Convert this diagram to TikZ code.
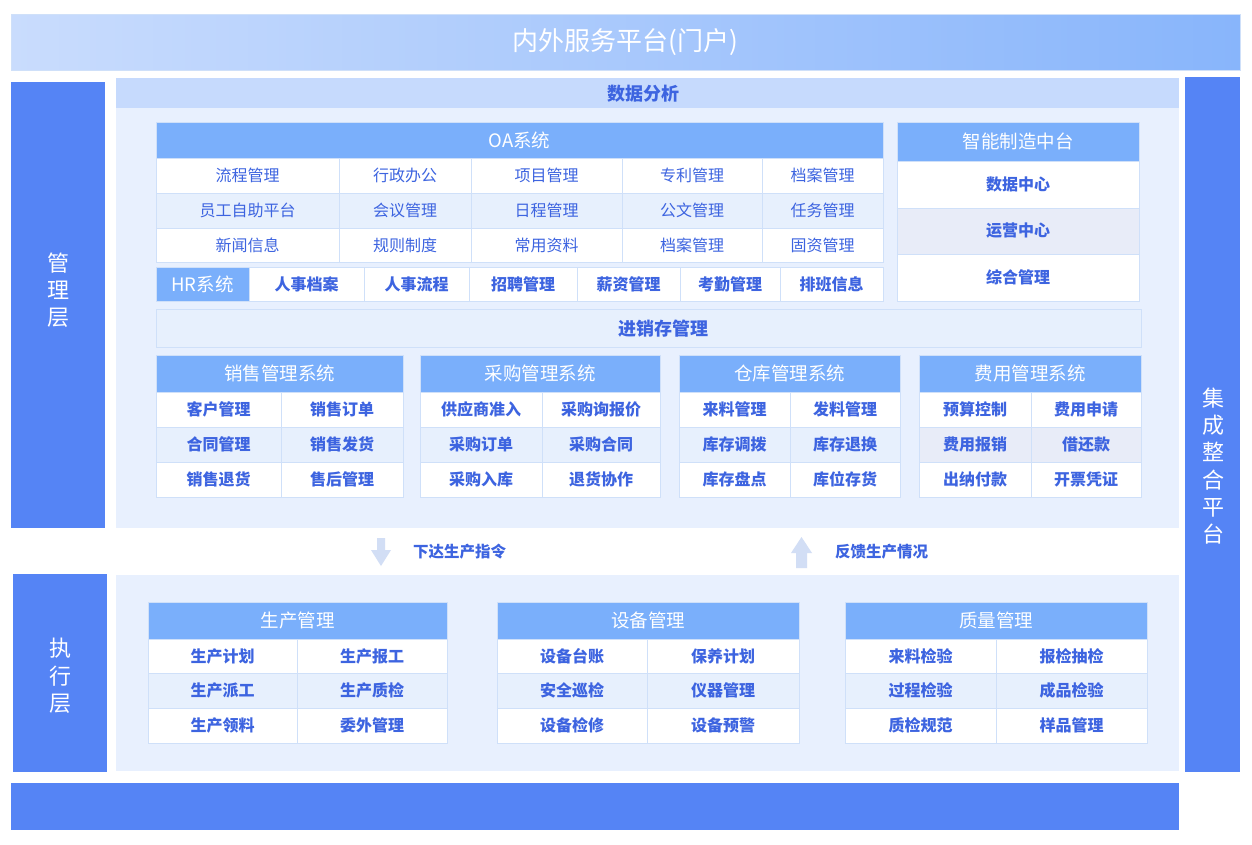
\documentclass[tikz,border=0pt]{standalone}
\usepackage{fontspec}
\setmainfont{Noto Sans CJK SC}
\definecolor{darkC}{HTML}{5584F5}
\definecolor{hdrC}{HTML}{7AAFFB}
\definecolor{bgC}{HTML}{E8F0FE}
\definecolor{bandC}{HTML}{C6DAFD}
\definecolor{lineC}{HTML}{CFE0F9}
\definecolor{rowL}{HTML}{E7F0FD}
\definecolor{rowG}{HTML}{E8ECF8}
\definecolor{txtB}{HTML}{3D64E0}
\definecolor{arrC}{HTML}{D2DEF5}
\definecolor{gradL}{HTML}{C9DCFD}
\definecolor{gradR}{HTML}{88B5FB}
\newcommand{\cellbox}[7]{%
  \pgfmathsetmacro{\cw}{#4-#2}\pgfmathsetmacro{\ch}{#5-#3}%
  \node[#6, minimum width=\cw pt, minimum height=\ch pt] (#1) at ({(#2+#4)/2},{(#3+#5)/2}) {#7};}
\tikzset{
  base/.style={inner sep=0pt, outer sep=0pt, anchor=center},
  cellW/.style={base, draw=lineC, line width=0.8pt, fill=white, text=txtB, font=\bfseries\fontsize{16}{16}\selectfont},
  cellR/.style={cellW, font=\fontsize{16}{16}\selectfont},
  cellL/.style={cellW, fill=rowL},
  cellLR/.style={cellR, fill=rowL},
  cellG/.style={cellW, fill=rowG},
  hdr/.style={base, draw=lineC, line width=0.8pt, fill=hdrC, text=white, font=\fontsize{18.5}{18.5}\selectfont},
  panel/.style={base, fill=darkC, text=white, align=center, font=\fontsize{22}{27.5}\selectfont},
  vtext/.style={base, text=white, align=center, font=\fontsize{22}{27.3}\selectfont},
  area/.style={base, fill=bgC},
  band/.style={base, fill=bandC, text=txtB, font=\bfseries\fontsize{18}{18}\selectfont},
  bandtxt/.style={base, text=txtB, font=\bfseries\fontsize{18}{18}\selectfont},
  arrowlbl/.style={base, anchor=west, text=txtB, font=\bfseries\fontsize{15.5}{15.5}\selectfont},
}
\begin{document}
\begin{tikzpicture}[x=1pt,y=-1pt]
\useasboundingbox (0,0) rectangle (1252,844);
\fill[white] (0,0) rectangle (1252,844);
% top banner
\cellbox{portal}{11}{14}{1240}{70}{base, draw=lineC, left color=gradL, right color=gradR, text=white, font=\fontsize{26}{26}\selectfont}{内外服务平台(门户)}
% side panels
\cellbox{mgmt}{11}{82}{105}{528}{panel}{}
\node[vtext] (mgmtlbl) at (58,290) {管\\理\\层};
\cellbox{exec}{13}{574}{107}{772}{panel}{}
\node[vtext] (execlbl) at (60,676) {执\\行\\层};
\cellbox{integ}{1185}{77}{1240}{772}{panel}{}
\node[vtext] (integlbl) at (1213,466) {集\\成\\整\\合\\平\\台};
\cellbox{bottom}{11}{783}{1179}{830}{base, fill=darkC}{}
% management area
\cellbox{mgmtarea}{116}{108}{1179}{528}{area}{}
\cellbox{data}{116}{78}{1179}{108}{band}{}
\node[bandtxt] (datalbl) at (643,94) {数据分析};
% OA
\cellbox{oa}{156}{122}{883}{158}{hdr}{OA系统}
\cellbox{oa11}{156}{158}{339}{193}{cellR}{流程管理}
\cellbox{oa12}{339}{158}{471}{193}{cellR}{行政办公}
\cellbox{oa13}{471}{158}{622}{193}{cellR}{项目管理}
\cellbox{oa14}{622}{158}{762}{193}{cellR}{专利管理}
\cellbox{oa15}{762}{158}{883}{193}{cellR}{档案管理}
\cellbox{oa21}{156}{193}{339}{228}{cellLR}{员工自助平台}
\cellbox{oa22}{339}{193}{471}{228}{cellLR}{会议管理}
\cellbox{oa23}{471}{193}{622}{228}{cellLR}{日程管理}
\cellbox{oa24}{622}{193}{762}{228}{cellLR}{公文管理}
\cellbox{oa25}{762}{193}{883}{228}{cellLR}{任务管理}
\cellbox{oa31}{156}{228}{339}{262}{cellR}{新闻信息}
\cellbox{oa32}{339}{228}{471}{262}{cellR}{规则制度}
\cellbox{oa33}{471}{228}{622}{262}{cellR}{常用资料}
\cellbox{oa34}{622}{228}{762}{262}{cellR}{档案管理}
\cellbox{oa35}{762}{228}{883}{262}{cellR}{固资管理}
% HR
\cellbox{hr}{156}{267}{249}{301}{hdr}{HR系统}
\cellbox{hr1}{249}{267}{364}{301}{cellW}{人事档案}
\cellbox{hr2}{364}{267}{469}{301}{cellW}{人事流程}
\cellbox{hr3}{469}{267}{577}{301}{cellW}{招聘管理}
\cellbox{hr4}{577}{267}{680}{301}{cellW}{薪资管理}
\cellbox{hr5}{680}{267}{780}{301}{cellW}{考勤管理}
\cellbox{hr6}{780}{267}{883}{301}{cellW}{排班信息}
% smart manufacturing
\cellbox{smart}{897}{122}{1139}{161}{hdr}{智能制造中台}
\cellbox{sm1}{897}{161}{1139}{208}{cellW}{数据中心}
\cellbox{sm2}{897}{208}{1139}{254}{cellG}{运营中心}
\cellbox{sm3}{897}{254}{1139}{301}{cellW}{综合管理}
% jxc
\cellbox{jxc}{156}{309}{1141}{347}{band, fill=rowL, draw=lineC, line width=0.8pt}{}
\node[bandtxt] (jxclbl) at (663,329) {进销存管理};
% sales
\cellbox{sales}{156}{355}{403}{392}{hdr}{销售管理系统}
\cellbox{sa11}{156}{392}{281}{427}{cellW}{客户管理}
\cellbox{sa12}{281}{392}{403}{427}{cellW}{销售订单}
\cellbox{sa21}{156}{427}{281}{462}{cellL}{合同管理}
\cellbox{sa22}{281}{427}{403}{462}{cellL}{销售发货}
\cellbox{sa31}{156}{462}{281}{497}{cellW}{销售退货}
\cellbox{sa32}{281}{462}{403}{497}{cellW}{售后管理}
% purchase
\cellbox{purch}{420}{355}{660}{392}{hdr}{采购管理系统}
\cellbox{pu11}{420}{392}{542}{427}{cellW}{供应商准入}
\cellbox{pu12}{542}{392}{660}{427}{cellW}{采购询报价}
\cellbox{pu21}{420}{427}{542}{462}{cellL}{采购订单}
\cellbox{pu22}{542}{427}{660}{462}{cellL}{采购合同}
\cellbox{pu31}{420}{462}{542}{497}{cellW}{采购入库}
\cellbox{pu32}{542}{462}{660}{497}{cellW}{退货协作}
% warehouse
\cellbox{wh}{679}{355}{900}{392}{hdr}{仓库管理系统}
\cellbox{wh11}{679}{392}{790}{427}{cellW}{来料管理}
\cellbox{wh12}{790}{392}{900}{427}{cellW}{发料管理}
\cellbox{wh21}{679}{427}{790}{462}{cellL}{库存调拨}
\cellbox{wh22}{790}{427}{900}{462}{cellL}{库存退换}
\cellbox{wh31}{679}{462}{790}{497}{cellW}{库存盘点}
\cellbox{wh32}{790}{462}{900}{497}{cellW}{库位存货}
% expense
\cellbox{exp}{919}{355}{1141}{392}{hdr}{费用管理系统}
\cellbox{ex11}{919}{392}{1031}{427}{cellW}{预算控制}
\cellbox{ex12}{1031}{392}{1141}{427}{cellW}{费用申请}
\cellbox{ex21}{919}{427}{1031}{462}{cellG}{费用报销}
\cellbox{ex22}{1031}{427}{1141}{462}{cellG}{借还款}
\cellbox{ex31}{919}{462}{1031}{497}{cellW}{出纳付款}
\cellbox{ex32}{1031}{462}{1141}{497}{cellW}{开票凭证}
% arrows
\fill[arrC] (377,538) -- (385,538) -- (385,550) -- (391,550) -- (381,566) -- (371,550) -- (377,550) -- cycle;
\node[arrowlbl] (down) at (413,552) {下达生产指令};
\fill[arrC] (796,568) -- (807,568) -- (807,553) -- (812,553) -- (801.5,537) -- (791,553) -- (796,553) -- cycle;
\node[arrowlbl] (up) at (835,552) {反馈生产情况};
% execution area
\cellbox{execarea}{116}{575}{1179}{771}{area}{}
% production
\cellbox{prod}{148}{602}{447}{639}{hdr}{生产管理}
\cellbox{pr11}{148}{639}{297}{673}{cellW}{生产计划}
\cellbox{pr12}{297}{639}{447}{673}{cellW}{生产报工}
\cellbox{pr21}{148}{673}{297}{708}{cellL}{生产派工}
\cellbox{pr22}{297}{673}{447}{708}{cellL}{生产质检}
\cellbox{pr31}{148}{708}{297}{743}{cellW}{生产领料}
\cellbox{pr32}{297}{708}{447}{743}{cellW}{委外管理}
% equipment
\cellbox{equip}{497}{602}{799}{639}{hdr}{设备管理}
\cellbox{eq11}{497}{639}{647}{673}{cellW}{设备台账}
\cellbox{eq12}{647}{639}{799}{673}{cellW}{保养计划}
\cellbox{eq21}{497}{673}{647}{708}{cellL}{安全巡检}
\cellbox{eq22}{647}{673}{799}{708}{cellL}{仪器管理}
\cellbox{eq31}{497}{708}{647}{743}{cellW}{设备检修}
\cellbox{eq32}{647}{708}{799}{743}{cellW}{设备预警}
% quality
\cellbox{qual}{845}{602}{1147}{639}{hdr}{质量管理}
\cellbox{qu11}{845}{639}{996}{673}{cellW}{来料检验}
\cellbox{qu12}{996}{639}{1147}{673}{cellW}{报检抽检}
\cellbox{qu21}{845}{673}{996}{708}{cellL}{过程检验}
\cellbox{qu22}{996}{673}{1147}{708}{cellL}{成品检验}
\cellbox{qu31}{845}{708}{996}{743}{cellW}{质检规范}
\cellbox{qu32}{996}{708}{1147}{743}{cellW}{样品管理}
\end{tikzpicture}
\end{document}
